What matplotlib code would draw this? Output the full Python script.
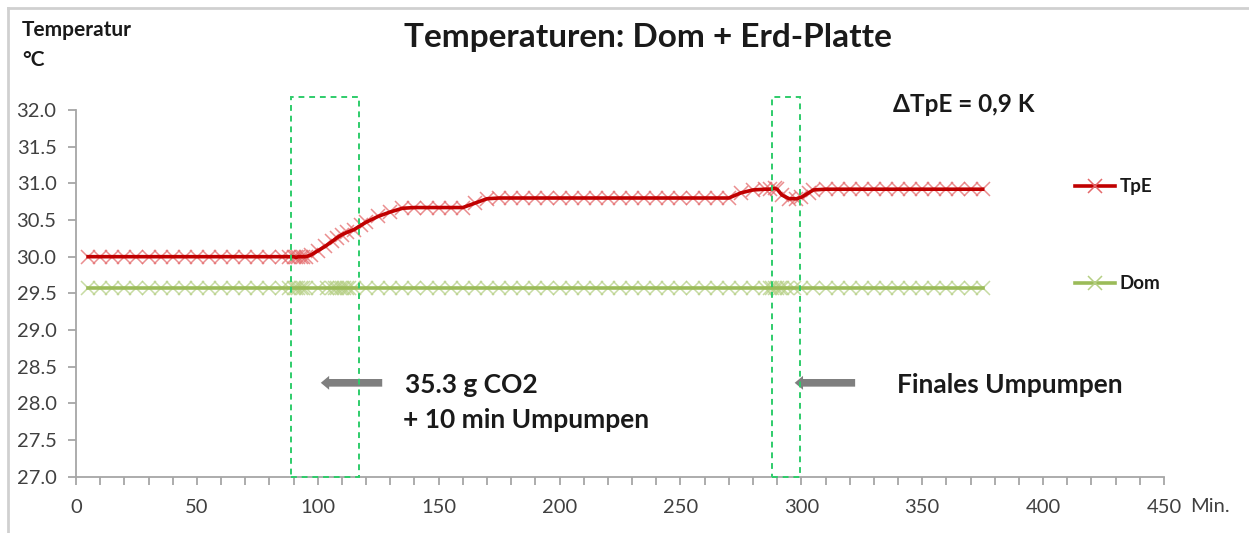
import matplotlib
matplotlib.use("Agg")
import matplotlib.pyplot as plt
import matplotlib.patches as mpatches
from matplotlib.lines import Line2D
from matplotlib.ticker import MultipleLocator

plt.rcParams['font.family'] = ['Lato', 'DejaVu Sans']

# TpE (Erd-Platte) readings
tpe_t = [5, 10, 15, 20, 25, 30, 35, 40, 45, 50, 55, 60, 65, 70, 75, 80, 85,
         88, 90, 91, 92, 93, 94, 95, 97, 100, 103, 106, 108, 110, 112, 115, 118,
         120, 125, 130, 135, 140, 145, 150, 155, 160, 165, 170, 175, 180, 185,
         190, 195, 200, 205, 210, 215, 220, 225, 230, 235, 240, 245, 250, 255,
         260, 265, 270, 275, 280, 285, 287, 289, 290, 292, 295, 298, 300, 303,
         305, 310, 315, 320, 325, 330, 335, 340, 345, 350, 355, 360, 365, 370, 375]
tpe_v = [30.0, 30.0, 30.0, 30.0, 30.0, 30.0, 30.0, 30.0, 30.0, 30.0, 30.0, 30.0,
         30.0, 30.0, 30.0, 30.0, 30.0,
         30.0, 30.0, 29.99, 30.0, 30.0, 30.0, 30.0, 30.02, 30.08, 30.14, 30.21,
         30.26, 30.3, 30.33, 30.37, 30.43,
         30.47, 30.55, 30.61, 30.66, 30.67, 30.67, 30.67, 30.67, 30.67, 30.73,
         30.79, 30.8, 30.8, 30.8,
         30.8, 30.8, 30.8, 30.8, 30.8, 30.8, 30.8, 30.8, 30.8, 30.8, 30.8, 30.8,
         30.8, 30.8,
         30.8, 30.8, 30.8, 30.87, 30.91, 30.92, 30.92, 30.93, 30.92, 30.84, 30.79,
         30.79, 30.81, 30.87,
         30.91, 30.92, 30.92, 30.92, 30.92, 30.92, 30.92, 30.92, 30.92, 30.92,
         30.92, 30.92, 30.92, 30.92, 30.92]

# Dom readings
dom_t = [5, 10, 15, 20, 25, 30, 35, 40, 45, 50, 55, 60, 65, 70, 75, 80, 85,
         88, 90, 91, 92, 93, 94, 95, 100, 104, 106, 107, 108, 109, 110, 111, 112,
         113, 115, 120, 125, 130, 135, 140, 145, 150, 155, 160, 165, 170, 175,
         180, 185, 190, 195, 200, 205, 210, 215, 220, 225, 230, 235, 240, 245,
         250, 255, 260, 265, 270, 275, 280, 285, 287, 288, 289, 290, 291, 292,
         294, 297, 300, 305, 310, 315, 320, 325, 330, 335, 340, 345, 350, 355,
         360, 365, 370, 375]
dom_v = [29.57] * len(dom_t)

box_spans = [(89, 117), (288, 299.6)]
x_ticks = [0, 50, 100, 150, 200, 250, 300, 350, 400, 450]
y_ticks = [27.0, 27.5, 28.0, 28.5, 29.0, 29.5, 30.0, 30.5, 31.0, 31.5, 32.0]

red = '#C00000'
red_mk = '#E4686A'
green = '#9BBB59'
green_mk = '#B5CF84'
box_col = '#2ECC6A'
axis_col = '#A6A6A6'
txt_col = '#404040'
dark = '#1A1A1A'

fig = plt.figure(figsize=(12.49, 5.33), dpi=100)
ax = fig.add_axes([76 / 1249, 56.3 / 533, (1164 - 76) / 1249, (476.7 - 110) / 533])

ax.plot(tpe_t, tpe_v, color=red, lw=2.6, zorder=3)
ax.plot(tpe_t, tpe_v, ls='none', marker='x', ms=10.5, mew=1.1, color=red_mk,
        alpha=0.75, zorder=2)
ax.plot(dom_t, dom_v, color=green, lw=2.6, zorder=3)
ax.plot(dom_t, dom_v, ls='none', marker='x', ms=10.5, mew=1.1, color=green_mk,
        alpha=0.75, zorder=2)

for x0, x1 in box_spans:
    ax.add_patch(mpatches.Rectangle((x0, 27.0), x1 - x0, 32.18 - 27.0, fill=False,
                                    ec=box_col, lw=1.4, ls=(0, (3, 2.5)),
                                    clip_on=False, zorder=4))

ax.set_xlim(0, 450)
ax.set_ylim(27.0, 32.0)
ax.set_xticks(x_ticks)
ax.set_yticks(y_ticks)
ax.set_yticklabels([f"{v:.1f}" for v in y_ticks])
ax.xaxis.set_minor_locator(MultipleLocator(10))
for s in ['top', 'right']:
    ax.spines[s].set_visible(False)
for s in ['left', 'bottom']:
    ax.spines[s].set_color(axis_col)
    ax.spines[s].set_linewidth(1.3)
ax.tick_params(axis='both', which='both', color=axis_col, width=1.3,
               labelcolor=txt_col, labelsize=14.5, direction='out')
ax.tick_params(axis='both', which='major', length=6)
ax.tick_params(axis='x', which='minor', length=6)
ax.tick_params(axis='x', pad=10)
ax.tick_params(axis='y', pad=8)

# annotations
arrow = dict(arrowstyle='simple,head_length=0.6,head_width=1.0,tail_width=0.55',
             color='#7F7F7F', mutation_scale=10, lw=0)
ax.annotate('', xy=(100.1, 28.28), xytext=(127.8, 28.28), arrowprops=arrow,
            annotation_clip=False)
ax.annotate('', xy=(296.1, 28.28), xytext=(323.4, 28.28), arrowprops=arrow,
            annotation_clip=False)
ax.text(136, 28.25, '35.3 g CO2', fontsize=19, fontweight='bold',
        color=dark, va='center', ha='left')
ax.text(135.2, 27.77, '+ 10 min Umpumpen', fontsize=19, fontweight='bold',
        color=dark, va='center', ha='left')
ax.text(339.5, 28.25, 'Finales Umpumpen', fontsize=19, fontweight='bold',
        color=dark, va='center', ha='left')
ax.text(337.9, 32.07, 'ΔTpE = 0,9 K', fontsize=17.5, fontweight='bold',
        color=dark, va='center', ha='left')

fig.text(648 / 1249, 1 - 37 / 533, 'Temperaturen: Dom + Erd-Platte', fontsize=24,
         fontweight='bold', color=dark, ha='center', va='center')
fig.text(22 / 1249, 1 - 30 / 533, 'Temperatur', fontsize=15, fontweight='bold',
         color=dark, ha='left', va='center')
fig.text(22 / 1249, 1 - 60 / 533, '°C', fontsize=15, fontweight='bold',
         color=dark, ha='left', va='center')
fig.text(1190 / 1249, 1 - 506 / 533, 'Min.', fontsize=14.5, color=txt_col,
         ha='left', va='center')

handles = [Line2D([], [], color=red, lw=2.6, marker='x', ms=10, mew=1.1,
                  markeredgecolor=red_mk),
           Line2D([], [], color=green, lw=2.6, marker='x', ms=10, mew=1.1,
                  markeredgecolor=green_mk)]
fig.legend(handles, ['TpE', 'Dom'], loc='upper left',
           bbox_to_anchor=(1066 / 1249, 1 - 169 / 533), frameon=False,
           borderpad=0, handlelength=2.1, handletextpad=0.25, labelspacing=4.25,
           prop=dict(size=13.5, weight='bold'), labelcolor=dark)

# outer chart frame (top and left edges visible)
fig.add_artist(Line2D([8 / 1249, 1.0], [1 - 8 / 533, 1 - 8 / 533],
                      transform=fig.transFigure, color='#D0D0D0', lw=2))
fig.add_artist(Line2D([8 / 1249, 8 / 1249], [0.0, 1 - 8 / 533],
                      transform=fig.transFigure, color='#D0D0D0', lw=2))

fig.savefig('out.png', dpi=100)
